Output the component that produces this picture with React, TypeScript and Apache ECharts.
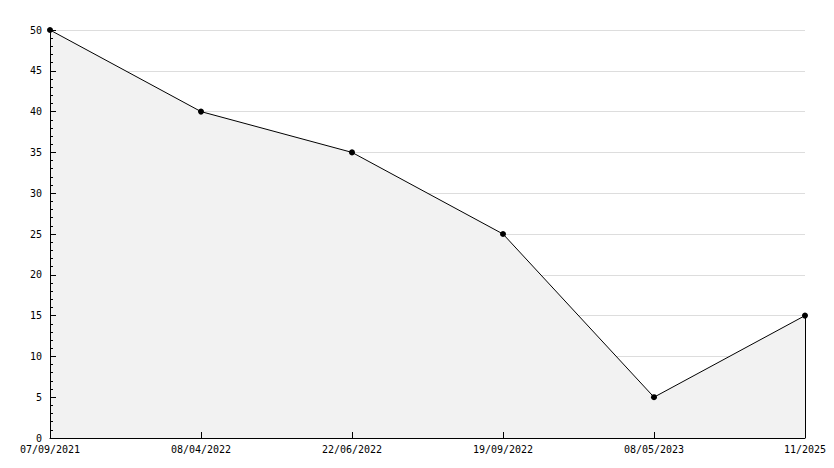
import React, { useEffect, useRef } from "react";
import * as echarts from "echarts";

const categories = ["07/09/2021", "08/04/2022", "22/06/2022", "19/09/2022", "08/05/2023", "11/2025"];
const values = [50, 40, 35, 25, 5, 15];

export default function App() {
  const ref = useRef<HTMLDivElement>(null);
  useEffect(() => {
    const chart = echarts.init(ref.current!, null, { renderer: "svg" });
    const font = "DejaVu Sans Mono";
    const last = categories.length - 1;
    chart.setOption({
      animation: false,
      backgroundColor: "#ffffff",
      grid: { left: 50, right: 29, top: 30, bottom: 30 },
      xAxis: {
        type: "category",
        data: categories,
        boundaryGap: false,
        z: 5,
        axisLine: { lineStyle: { color: "#000", width: 1 } },
        axisTick: { inside: true, length: 6, lineStyle: { color: "#000" } },
        axisLabel: { color: "#000", fontFamily: font, fontSize: 10, margin: 6, interval: 0 },
        splitLine: { show: false },
      },
      yAxis: [
        {
          type: "value",
          min: 0,
          max: 50,
          interval: 5,
          z: 0,
          axisLine: { show: false },
          axisTick: { show: false },
          axisLabel: { show: false },
          splitLine: { show: true, lineStyle: { color: "#dddddd", width: 1 } },
        },
        {
          type: "value",
          position: "left",
          min: 0,
          max: 50,
          interval: 5,
          z: 5,
          axisLine: { show: true, lineStyle: { color: "#000", width: 1 } },
          axisTick: { show: true, inside: true, length: 6, lineStyle: { color: "#000" } },
          minorTick: { show: true, splitNumber: 5, length: 3, lineStyle: { color: "#000" } },
          axisLabel: { color: "#000", fontFamily: font, fontSize: 10, margin: 8 },
          splitLine: { show: false },
        },
      ],
      series: [
        {
          type: "line",
          data: values,
          yAxisIndex: 0,
          z: 2,
          symbol: "circle",
          symbolSize: 6,
          itemStyle: { color: "#000" },
          lineStyle: { color: "#000", width: 1 },
          areaStyle: { color: "#f2f2f2", opacity: 1 },
          markLine: {
            silent: true,
            symbol: "none",
            label: { show: false },
            lineStyle: { color: "#000", width: 1, type: "solid" },
            data: [[{ coord: [last, values[last]] }, { coord: [last, 0] }]],
          },
        },
      ],
    });
    return () => chart.dispose();
  }, []);
  return <div ref={ref} style={{ width: 834, height: 468, position: "absolute", left: 0, top: 0 }} />;
}
